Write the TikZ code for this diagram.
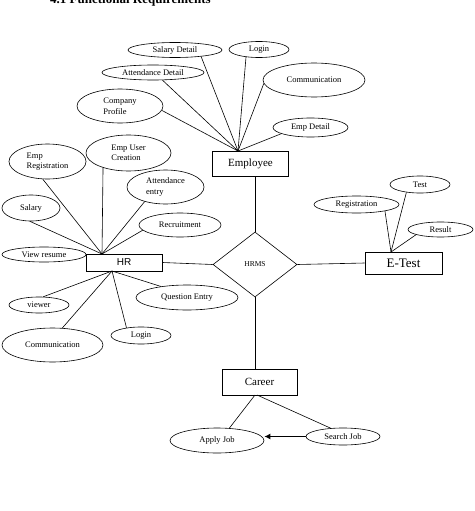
\documentclass[tikz,border=0pt]{standalone}
\usepackage{fontspec}
\setmainfont{Liberation Serif}
\newfontfamily\arialf{Liberation Sans}
\usetikzlibrary{shapes.geometric,arrows.meta}
\tikzset{
  ell/.style={draw, ellipse, line width=0.6pt, inner sep=0pt, font=\fontsize{8.5}{10.5}\selectfont},
  ent/.style={draw, rectangle, line width=0.7pt, inner sep=0pt, font=\fontsize{11}{12}\selectfont},
  rel/.style={draw, diamond, line width=0.6pt, inner sep=0pt, font=\fontsize{7.5}{8}\selectfont},
  conn/.style={line width=0.6pt},
  arr/.style={line width=1.4pt, -{Latex[length=6pt,width=6pt]}}
}
\begin{document}
\begin{tikzpicture}[x=1pt,y=-1pt]
\useasboundingbox (0,0) rectangle (474,511);
\fill[white] (0,0) rectangle (474,511);
% title
\node[anchor=base west, inner sep=0pt, font=\fontsize{13}{14}\selectfont\bfseries] (title) at (50,4) {4.1 Functional Requirements};
% Employee side
\node[ell, minimum width=94pt, minimum height=15pt] (sal) at (175,50) {Salary Detail};
\node[ell, minimum width=60pt, minimum height=16pt] (lgt) at (259,49.5) {Login};
\node[ell, minimum width=102pt, minimum height=15pt] (att) at (153,72.5) {Attendance Detail};
\node[ell, minimum width=102pt, minimum height=34pt] (com1) at (314,80) {Communication};
\node[ell, minimum width=86pt, minimum height=34pt, align=left] (cpr) at (120,106) {Company\\Profile};
\node[ell, minimum width=75pt, minimum height=19pt] (emd) at (310.5,127.5) {Emp Detail};
\node[ent, minimum width=76pt, minimum height=25pt] (emp) at (250.5,163.5) {Employee};
\coordinate (empc) at (238,151);
\draw[conn] (sal.-14) -- (empc);
\draw[conn] (lgt.-150) -- (empc);
\draw[conn] (att.-39) -- (empc);
\draw[conn] (com1.184) -- (empc);
\draw[conn] (cpr.-6) -- (empc);
\draw[conn] (emd.-168) -- (empc);
% HR side
\node[ell, minimum width=77pt, minimum height=35pt, align=left] (ereg) at (47.5,161.5) {Emp\\Registration};
\node[ell, minimum width=85pt, minimum height=36pt, align=left] (euc) at (128.5,153) {Emp User\\Creation};
\node[ell, minimum width=77pt, minimum height=34pt, align=left] (aten) at (165.5,187) {Attendance\\entry};
\node[ell, minimum width=58pt, minimum height=26pt] (sly) at (31,208) {Salary};
\node[ell, minimum width=82pt, minimum height=24pt] (rec) at (180,225) {Recruitment};
\node[ell, minimum width=84pt, minimum height=15pt] (vr) at (44,254.5) {View resume};
\node[ent, minimum width=76pt, minimum height=17pt, font=\arialf\fontsize{10}{11}\selectfont] (hr) at (124,262.5) {HR};
\node[ell, minimum width=60pt, minimum height=16pt] (vw) at (39,305) {viewer};
\node[ell, minimum width=101pt, minimum height=34pt] (com2) at (52.5,345) {Communication};
\node[ell, minimum width=60pt, minimum height=17pt] (lgb) at (141,335.5) {Login};
\node[ell, minimum width=102pt, minimum height=25pt] (qe) at (187,297.5) {Question Entry};
\coordinate (hrt) at (102,254);
\coordinate (hrb) at (112,271);
\draw[conn] (ereg.-105) -- (hrt);
\draw[conn] (euc.-150) -- (hrt);
\draw[conn] (aten.-145) -- (hrt);
\draw[conn] (sly.-95) -- (hrt);
\draw[conn] (rec.-172) -- (hrt);
\draw[conn] (vw.63) -- (hrb);
\draw[conn] (com2.60) -- (hrb);
\draw[conn] (lgb.152) -- (hrb);
\draw[conn] (qe.157) -- (hrb);
% center
\node[rel, minimum width=84pt, minimum height=65pt] (hrms) at (255,264.5) {HRMS};
\draw[conn] (hrms.north |- emp.south) -- (hrms.north);
\draw[conn] (hr.east) -- (hrms.west);
% E-Test
\node[ell, minimum width=85pt, minimum height=17pt] (reg) at (356.5,204.5) {Registration};
\node[ell, minimum width=60pt, minimum height=17pt] (tst) at (420,184.5) {Test};
\node[ell, minimum width=65pt, minimum height=15pt] (res) at (440.5,229.5) {Result};
\node[ent, minimum width=77pt, minimum height=22pt, font=\fontsize{13}{14}\selectfont] (et) at (403.5,263) {E-Test};
\coordinate (ett) at (391,252);
\draw[conn] (reg.-13) -- (ett);
\draw[conn] (tst.-150) -- (ett);
\draw[conn] (res.-168) -- (ett);
\draw[conn] (hrms.east) -- (et.west);
% Career
\node[ent, minimum width=75pt, minimum height=26pt] (car) at (259.5,382) {Career};
\node[ell, minimum width=94pt, minimum height=25pt] (aj) at (217,440.5) {Apply Job};
\node[ell, minimum width=74pt, minimum height=17pt] (sj) at (343,436.5) {Search Job};
\draw[conn] (hrms.south) -- (hrms.south |- car.north);
\coordinate (carb1) at (255,395);
\coordinate (carb2) at (257,395);
\draw[conn] (carb1) -- (aj.45);
\draw[conn] (carb2) -- (sj.146);
\draw[arr] (sj.west) -- (sj.west -| aj.east);
\end{tikzpicture}
\end{document}
